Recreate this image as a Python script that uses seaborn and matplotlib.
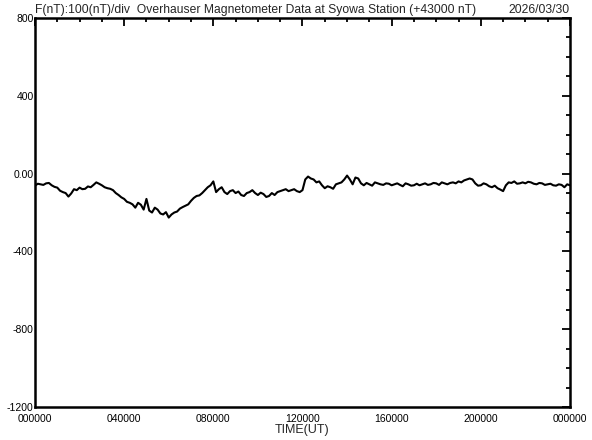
import numpy as np
import pandas as pd
import seaborn as sns
import matplotlib.pyplot as plt
from matplotlib.ticker import MultipleLocator

# Syowa F-component, relative to 43000 nT, one value every 7.5 min
hours = [i * 0.125 for i in range(193)]
f_nt = [
    -62, -52, -55, -58, -50, -48, -60, -68,      # 00h
    -72, -88, -95, -100, -118, -102, -80, -85,   # 01h
    -72, -80, -78, -66, -70, -58, -45, -52,      # 02h
    -60, -70, -75, -78, -85, -100, -110, -122,   # 03h
    -130, -145, -150, -158, -175, -150, -160, -185,  # 04h
    -130, -190, -200, -175, -185, -205, -210, -198,  # 05h
    -226, -210, -200, -195, -180, -172, -165, -158,  # 06h
    -140, -125, -115, -112, -100, -85, -70, -60,     # 07h
    -40, -95, -80, -70, -95, -105, -90, -85,     # 08h
    -100, -92, -110, -115, -100, -95, -85, -100, # 09h
    -110, -98, -105, -120, -115, -100, -110, -95,  # 10h
    -90, -85, -80, -90, -85, -80, -90, -95,      # 11h
    -85, -30, -15, -25, -30, -45, -40, -60,      # 12h
    -75, -65, -70, -78, -55, -50, -45, -30,      # 13h
    -10, -30, -55, -20, -25, -50, -60, -48,      # 14h
    -55, -62, -45, -50, -55, -58, -50, -52,      # 15h
    -60, -55, -50, -58, -65, -50, -55, -62,      # 16h
    -60, -52, -60, -55, -50, -58, -55, -48,      # 17h
    -50, -58, -45, -50, -55, -48, -45, -50,      # 18h
    -40, -45, -35, -30, -25, -30, -50, -62,      # 19h
    -60, -50, -55, -65, -70, -62, -75, -82,      # 20h
    -90, -60, -45, -48, -40, -52, -50, -45,      # 21h
    -50, -42, -45, -52, -55, -48, -50, -58,      # 22h
    -55, -52, -60, -62, -55, -58, -70, -55,      # 23h
    -60,
]

x_ticks = [0, 4, 8, 12, 16, 20, 24]
x_tick_labels = ['000000', '040000', '080000', '120000', '160000', '200000', '000000']
y_ticks = [-1200, -800, -400, 0, 400, 800]
y_tick_labels = ['-1200', '-800', '-400', '0.00', '400', '800']

df = pd.DataFrame({'hour': hours, 'F': f_nt})

sns.set_style('white')
plt.rcParams['font.family'] = ['Liberation Sans', 'DejaVu Sans']

fig = plt.figure(figsize=(5.92, 4.40), dpi=100)
ax = fig.add_axes([0.0591, 0.075, 0.9037, 0.884])

sns.lineplot(data=df, x='hour', y='F', color='black', linewidth=1.5, ax=ax)

ax.set_xlim(0, 24)
ax.set_ylim(-1200, 800)
ax.set_xticks(x_ticks)
ax.set_xticklabels(x_tick_labels)
ax.set_yticks(y_ticks)
ax.set_yticklabels(y_tick_labels)
ax.xaxis.set_minor_locator(MultipleLocator(1))
ax.yaxis.set_minor_locator(MultipleLocator(100))
ax.tick_params(which='both', direction='in', top=True, right=True,
               labelsize=7.5, width=1.3, colors='black')
ax.tick_params(axis='x', pad=5)
ax.tick_params(axis='y', pad=1)
ax.tick_params(which='major', length=6)
ax.tick_params(which='minor', length=3)
for s in ax.spines.values():
    s.set_visible(True)
    s.set_color('black')
    s.set_linewidth(1.8)

ax.set_xlabel('TIME(UT)', fontsize=9, labelpad=0)
ax.set_ylabel('')

fig.text(0.059, 0.964, 'F(nT):100(nT)/div  Overhauser Magnetometer Data at Syowa Station (+43000 nT)',
         fontsize=8.7, ha='left', va='bottom')
fig.text(0.962, 0.964, '2026/03/30', fontsize=8.7, ha='right', va='bottom')

fig.savefig('out.png', dpi=100)
